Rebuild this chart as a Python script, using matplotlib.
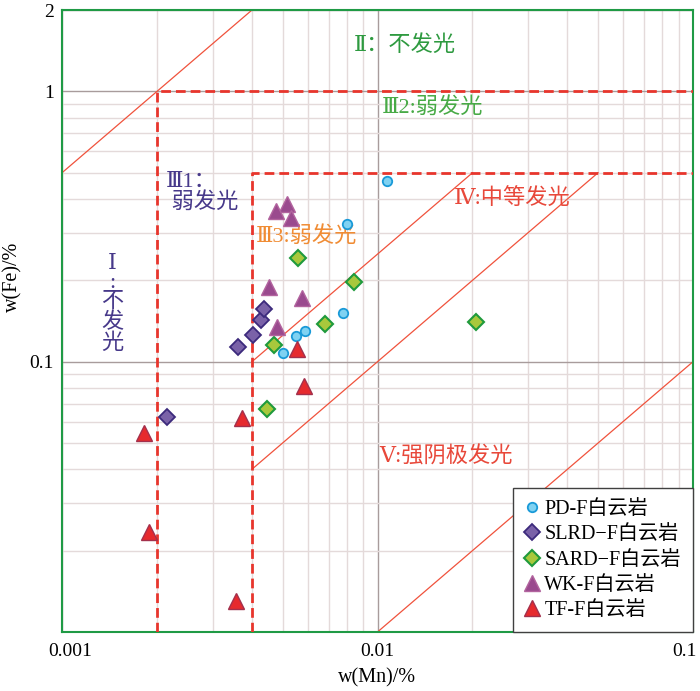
import matplotlib
matplotlib.use('Agg')
import matplotlib.pyplot as plt
from matplotlib.ticker import FixedLocator, NullFormatter, LogLocator
from matplotlib.transforms import ScaledTranslation

plt.rcParams['font.family'] = ['Liberation Serif', 'DejaVu Serif', 'Noto Sans CJK SC']
plt.rcParams['axes.unicode_minus'] = False

# 数据 (w(Mn)%, w(Fe)%)
pd_mn = [0.0107, 0.0080, 0.0078, 0.0059, 0.0055, 0.0050]
pd_fe = [0.465, 0.323, 0.151, 0.130, 0.124, 0.108]

slrd_mn = [0.00215, 0.00362, 0.00404, 0.00427, 0.00438]
slrd_fe = [0.0624, 0.113, 0.125, 0.143, 0.157]

sard_mn = [0.0056, 0.0084, 0.0068, 0.0047, 0.0205, 0.00446]
sard_fe = [0.242, 0.197, 0.138, 0.1156, 0.1406, 0.0668]

wk_mn = [0.00518, 0.00477, 0.00532, 0.00454, 0.00575, 0.00479]
wk_fe = [0.384, 0.362, 0.340, 0.1885, 0.172, 0.134]

tf_mn = [0.00554, 0.00585, 0.00371, 0.00182, 0.00189, 0.00355]
tf_fe = [0.1117, 0.0815, 0.0619, 0.0547, 0.0235, 0.0130]

# 分区斜线 Fe = k * Mn, 以及 Mn 的范围
diag_k = [500, 25, 10, 1]
diag_mn_start = [0.001, 0.004, 0.004, 0.01]
diag_mn_end = [0.004, 0.02, 0.05, 0.1]

# 分区虚线框 (Mn 边界, Fe 上限)
box_mn = [0.002, 0.004]
box_fe = [1.0, 0.5]

x_min, x_max = 0.001, 0.1
y_min, y_max = 0.01, 2

fig = plt.figure(figsize=(7, 6.91), dpi=100)
ax = fig.add_axes([0.0886, 0.0854, 0.9014, 0.9001])
ax.set_xscale('log')
ax.set_yscale('log')
ax.set_xlim(x_min, x_max)
ax.set_ylim(y_min, y_max)

# 网格
ax.xaxis.set_major_locator(FixedLocator([0.001, 0.01, 0.1]))
ax.set_xticklabels(['0.001', '0.01', '0.1'])
ax.yaxis.set_major_locator(FixedLocator([0.1, 1, 2]))
ax.set_yticklabels(['0.1', '1', '2'])
ax.xaxis.set_minor_locator(LogLocator(base=10, subs=range(2, 10)))
ax.yaxis.set_minor_locator(LogLocator(base=10, subs=range(2, 10)))
ax.xaxis.set_minor_formatter(NullFormatter())
ax.yaxis.set_minor_formatter(NullFormatter())
ax.grid(which='minor', color='#e4dada', lw=1.0, zorder=0)
ax.grid(which='major', color='#a89c9c', lw=1.0, zorder=0)
ax.set_axisbelow(True)
ax.tick_params(which='both', length=0)
ax.tick_params(axis='x', pad=8, labelsize=14)
ax.tick_params(axis='y', pad=6, labelsize=14)

# 两端的刻度文字稍微往里挪
xlabels = ax.get_xticklabels()
xlabels[0].set_transform(xlabels[0].get_transform() + ScaledTranslation(8 / 100, 0, fig.dpi_scale_trans))
xlabels[-1].set_transform(xlabels[-1].get_transform() + ScaledTranslation(-9 / 100, 0, fig.dpi_scale_trans))

for sp in ax.spines.values():
    sp.set_color('#1f9a45')
    sp.set_linewidth(1.5)

# 斜线
for k, x0, x1 in zip(diag_k, diag_mn_start, diag_mn_end):
    ax.plot([x0, x1], [k * x0, k * x1], color='#f0523c', lw=0.9, zorder=2)

# 虚线框
for bx, by in zip(box_mn, box_fe):
    ax.plot([bx, bx, x_max], [y_min, by, by], color='#e8352c', lw=2.0,
            linestyle=(0, (3.5, 1.8)), zorder=3)

ms_kw = dict(linestyle='none', zorder=5)
ax.plot(pd_mn, pd_fe, marker='o', ms=6.8, mfc='#7fd2f2', mec='#1a9ad8', mew=1.3,
        label='PD-F白云岩', **ms_kw)
ax.plot(slrd_mn, slrd_fe, marker='D', ms=8.2, mfc='#7a62a8', mec='#3c2a7c', mew=1.3,
        label='SLRD−F白云岩', **ms_kw)
ax.plot(sard_mn, sard_fe, marker='D', ms=8.2, mfc='#a8c83c', mec='#1f9a3c', mew=1.5,
        label='SARD−F白云岩', **ms_kw)
ax.plot(wk_mn, wk_fe, marker='^', ms=12, mfc='#9a4a8e', mec='#b2649e', mew=1.0,
        label='WK-F白云岩', **ms_kw)
ax.plot(tf_mn, tf_fe, marker='^', ms=12, mfc='#e62a2e', mec='#a3304c', mew=1.0,
        label='TF-F白云岩', **ms_kw)

# 分区文字
fs = 16
ax.text(0.00842, 1.48, 'Ⅱ：不发光', color='#2e9a40', fontsize=fs, ha='left', va='center')
ax.text(0.0103, 0.875, 'Ⅲ2:弱发光', color='#48aa46', fontsize=fs, ha='left', va='center')
ax.text(0.00213, 0.42, 'Ⅲ1：\n 弱发光', color='#47398a', fontsize=fs, ha='left', va='center',
        linespacing=1.0)
ax.text(0.00144, 0.163, 'Ⅰ\n:\n不\n发\n光', color='#47398a', fontsize=fs, ha='center',
        va='center', linespacing=1.02)
ax.text(0.0041, 0.29, 'Ⅲ3:弱发光', color='#f08c34', fontsize=fs, ha='left', va='center')
ax.text(0.0174, 0.40, 'Ⅳ:中等发光', color='#e8483a', fontsize=fs, ha='left', va='center')
ax.text(0.0101, 0.0445, 'Ⅴ:强阴极发光', color='#e8483a', fontsize=fs, ha='left', va='center')

ax.set_xlabel('w(Mn)/%', fontsize=14.5)
ax.set_ylabel('w(Fe)/%', fontsize=14.5)
ax.xaxis.set_label_coords(0.5, -0.058)
ax.yaxis.set_label_coords(-0.063, 0.571)

leg = ax.legend(loc='lower right', borderaxespad=0, fancybox=False, framealpha=1,
                edgecolor='#404040', fontsize=14.5, handlelength=0.7, handletextpad=0.25,
                labelspacing=0.3, borderpad=0.6)
leg.get_frame().set_linewidth(1.0)
leg.set_zorder(10)

fig.savefig('out.png', dpi=100)
